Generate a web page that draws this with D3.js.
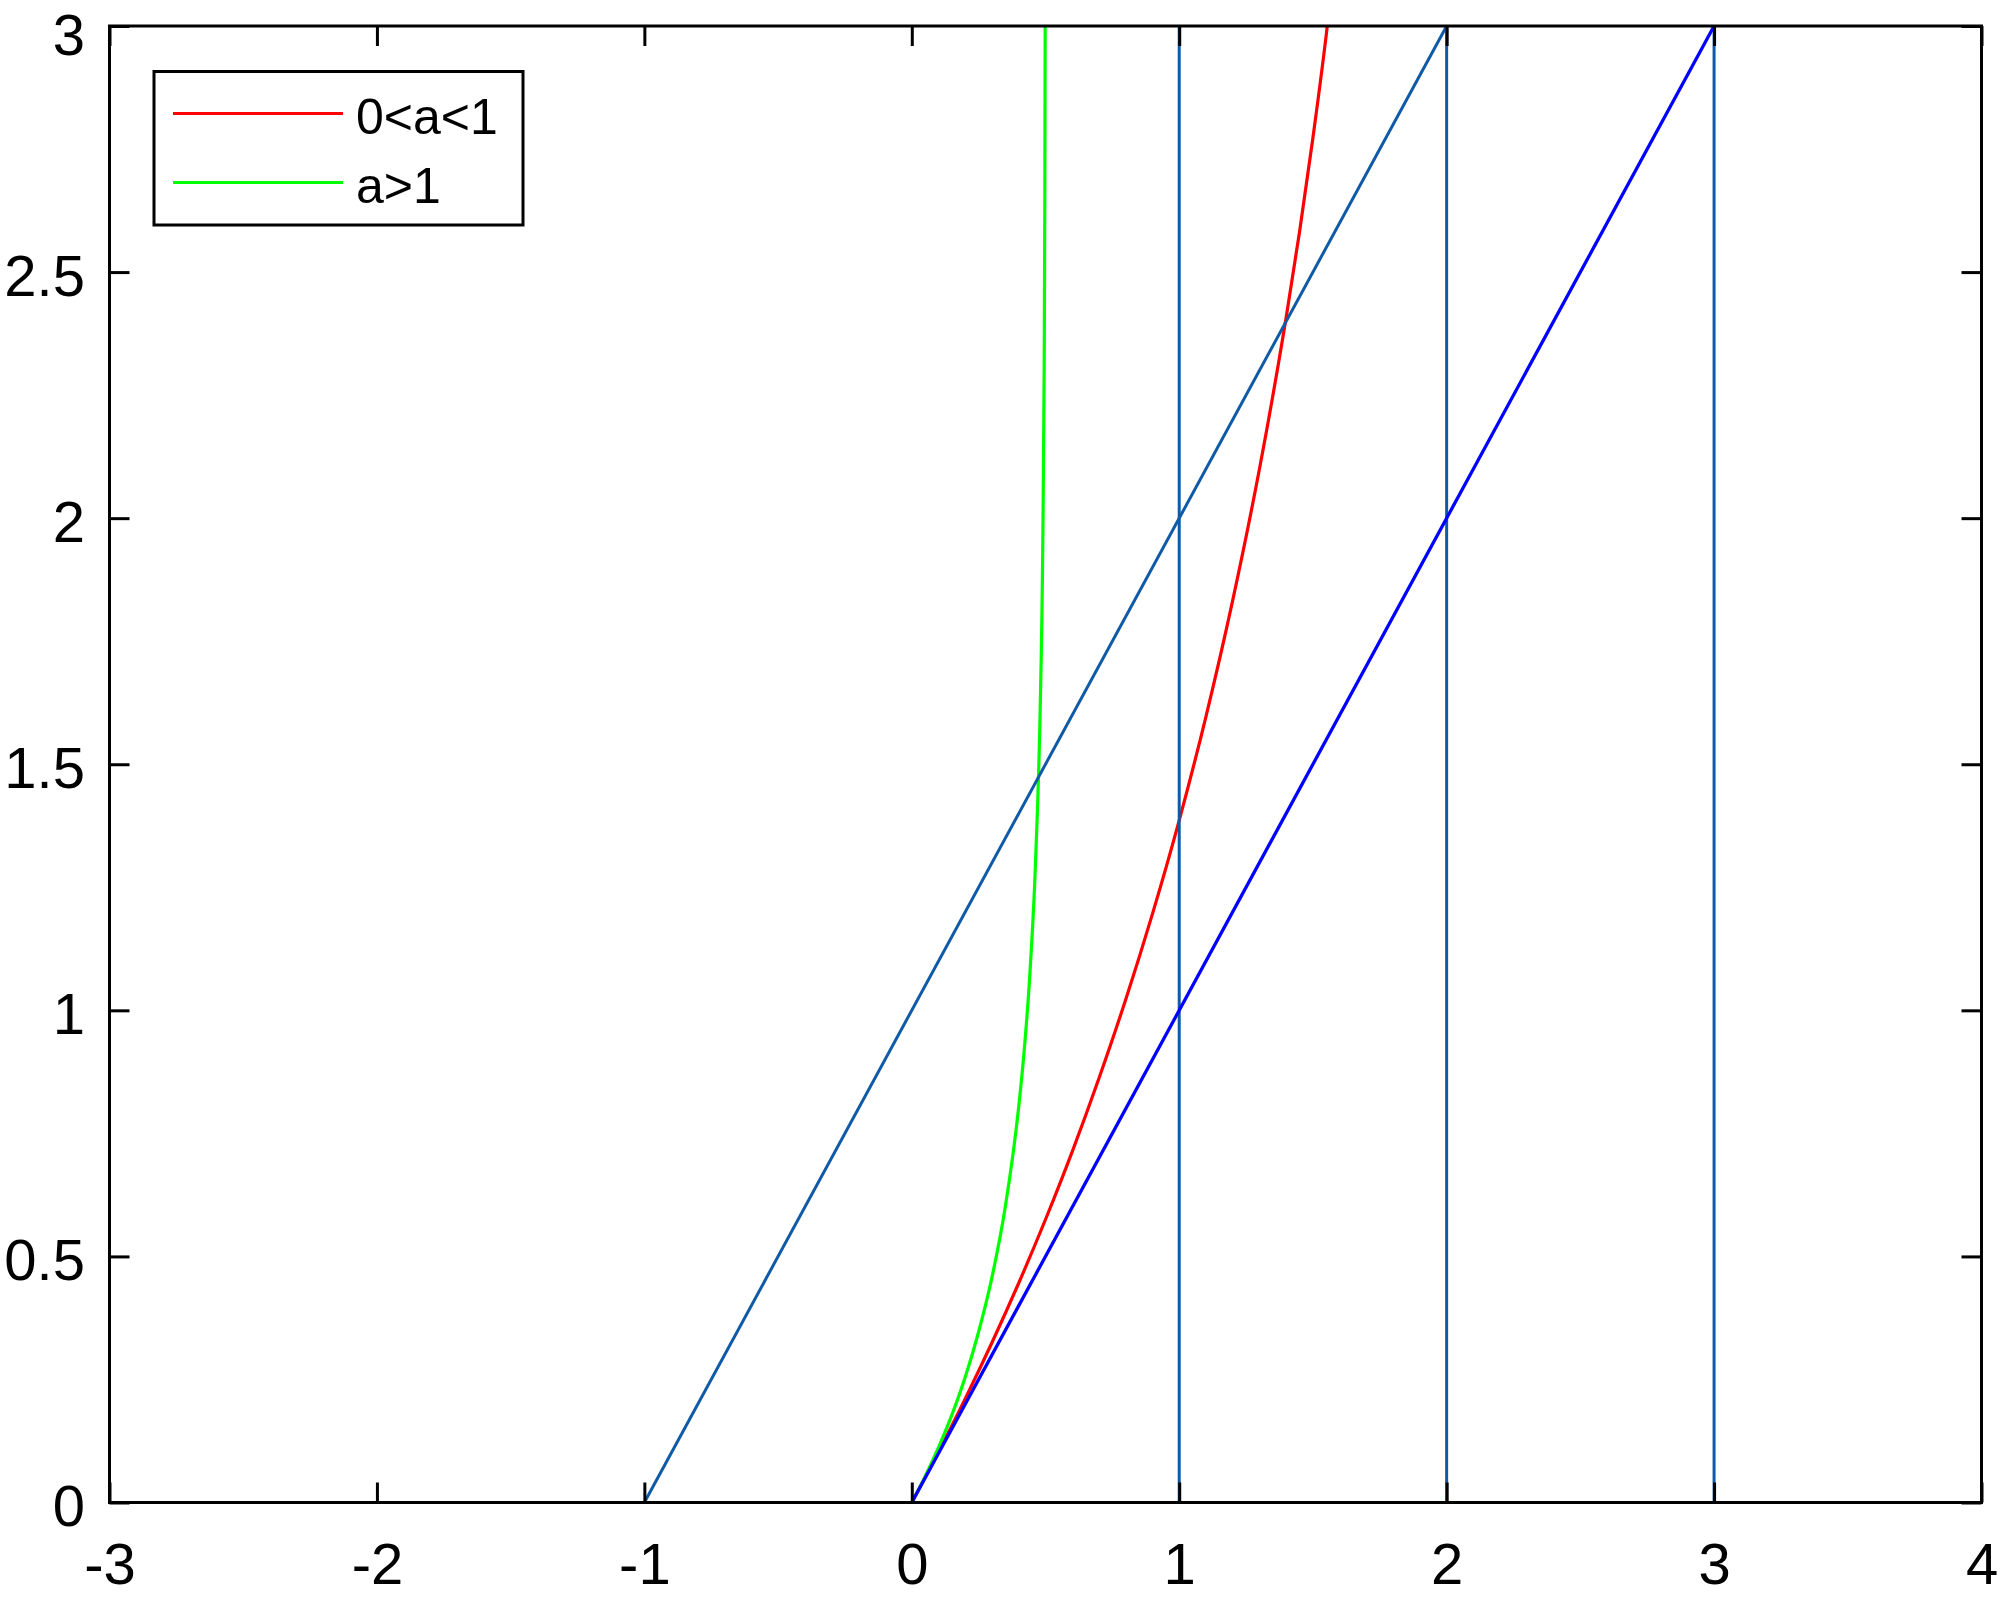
<!DOCTYPE html>
<html>
<head>
<meta charset="utf-8">
<script src="https://cdn.jsdelivr.net/npm/d3@7"></script>
<style>
  html, body { margin: 0; padding: 0; background: #ffffff; }
  svg { display: block; }
  text { font-family: "Liberation Sans", Arial, Helvetica, sans-serif; fill: #000; }
</style>
</head>
<body>
<svg id="chart" width="2000" height="1600"></svg>
<script>
// ---- data ----
const xTickValues = [-3, -2, -1, 0, 1, 2, 3, 4];
const xTickLabels = ["-3", "-2", "-1", "0", "1", "2", "3", "4"];
const yTickValues = [0, 0.5, 1, 1.5, 2, 2.5, 3];
const yTickLabels = ["0", "0.5", "1", "1.5", "2", "2.5", "3"];

// red curve (0<a<1)
const redX = [0, 0.1, 0.2, 0.3, 0.4, 0.5, 0.6, 0.7, 0.8, 0.9, 1.0, 1.1, 1.2, 1.3, 1.4, 1.45, 1.5, 1.55, 1.5537];
const redY = [0, 0.103, 0.211, 0.325, 0.446, 0.575, 0.713, 0.862, 1.022, 1.196, 1.386, 1.597, 1.833, 2.100, 2.408, 2.582, 2.773, 2.983, 3.0];

// green curve (a>1)
const greenX = [0, 0.05, 0.1, 0.15, 0.2, 0.25, 0.3, 0.35, 0.4, 0.42, 0.44, 0.46, 0.47, 0.48, 0.49, 0.495, 0.4975, 0.4988];
const greenY = [0, 0.053, 0.112, 0.178, 0.255, 0.347, 0.458, 0.602, 0.805, 0.916, 1.060, 1.263, 1.407, 1.609, 1.956, 2.303, 2.649, 3.0];

// straight lines
const blueLineX = [0, 3];
const blueLineY = [0, 3];
const darkLineX = [-1, 2];
const darkLineY = [0, 3];
const verticalX = [1, 2, 3];
const verticalY = [0, 3];

const legendLabels = ["0<a<1", "a>1"];

// ---- layout ----
const svg = d3.select("#chart");
const plotLeft = 109.5, plotRight = 1981.5, plotTop = 26, plotBottom = 1502.5;

const x = d3.scaleLinear().domain([-3, 4]).range([plotLeft, plotRight]);
const y = d3.scaleLinear().domain([0, 3]).range([plotBottom, plotTop]);

svg.append("rect").attr("width", 2000).attr("height", 1600).attr("fill", "#fff");

const line = d3.line().x(d => x(d[0])).y(d => y(d[1]));
const smooth = d3.line().x(d => x(d[0])).y(d => y(d[1])).curve(d3.curveMonotoneX);

const zip = (a, b) => a.map((v, i) => [v, b[i]]);

const plot = svg.append("g");

plot.append("path").datum(zip(redX, redY)).attr("d", smooth)
  .attr("fill", "none").attr("stroke", "#ff0000").attr("stroke-width", 3.2);
plot.append("path").datum(zip(greenX, greenY)).attr("d", smooth)
  .attr("fill", "none").attr("stroke", "#00ff00").attr("stroke-width", 3.2);

const darkBlue = "#0f5aa6";
verticalX.forEach(vx => {
  plot.append("path").datum(verticalY.map(vy => [vx, vy])).attr("d", line)
    .attr("fill", "none").attr("stroke", darkBlue).attr("stroke-width", 3);
});
plot.append("path").datum(zip(darkLineX, darkLineY)).attr("d", line)
  .attr("fill", "none").attr("stroke", darkBlue).attr("stroke-width", 3);
plot.append("path").datum(zip(blueLineX, blueLineY)).attr("d", line)
  .attr("fill", "none").attr("stroke", "#0000ff").attr("stroke-width", 3.3);

// ---- axes ----
function styleAxis(g) {
  g.select(".domain").remove();
  g.selectAll(".tick line").attr("stroke", "#000").attr("stroke-width", 3);
  g.selectAll(".tick text").attr("font-size", 58).attr("fill", "#000")
    .style("font-family", "'Liberation Sans', Arial, sans-serif");
}

svg.append("g").attr("transform", `translate(0,${plotBottom})`)
  .call(d3.axisBottom(x).tickValues(xTickValues).tickSize(-20).tickPadding(40)
    .tickFormat((d, i) => xTickLabels[i]))
  .call(styleAxis);

svg.append("g").attr("transform", `translate(${plotLeft},0)`)
  .call(d3.axisLeft(y).tickValues(yTickValues).tickSize(-20).tickPadding(24.5)
    .tickFormat((d, i) => yTickLabels[i]))
  .call(styleAxis)
  .call(g => g.selectAll(".tick text")
    .attr("dy", (d, i) => i === yTickValues.length - 1 ? "0.49em" : "0.40em"));

svg.append("g").attr("transform", `translate(0,${plotTop})`)
  .call(d3.axisTop(x).tickValues(xTickValues).tickSize(-20).tickFormat(""))
  .call(styleAxis);

svg.append("g").attr("transform", `translate(${plotRight},0)`)
  .call(d3.axisRight(y).tickValues(yTickValues).tickSize(-20).tickFormat(""))
  .call(styleAxis);

svg.append("rect")
  .attr("x", plotLeft).attr("y", plotTop)
  .attr("width", plotRight - plotLeft).attr("height", plotBottom - plotTop)
  .attr("fill", "none").attr("stroke", "#000").attr("stroke-width", 3);

// ---- legend ----
const legend = svg.append("g");
legend.append("rect")
  .attr("x", 154).attr("y", 71.5).attr("width", 369).attr("height", 153.5)
  .attr("fill", "#fff").attr("stroke", "#000").attr("stroke-width", 3);
const legendColors = ["#ff0000", "#00ff00"];
const legendRowY = [113.5, 182.5];
legendLabels.forEach((lab, i) => {
  legend.append("line")
    .attr("x1", 173).attr("x2", 343)
    .attr("y1", legendRowY[i]).attr("y2", legendRowY[i])
    .attr("stroke", legendColors[i]).attr("stroke-width", 3);
  legend.append("text")
    .attr("x", 356).attr("y", legendRowY[i] + 20)
    .attr("font-size", 50)
    .text(lab);
});
</script>
</body>
</html>
